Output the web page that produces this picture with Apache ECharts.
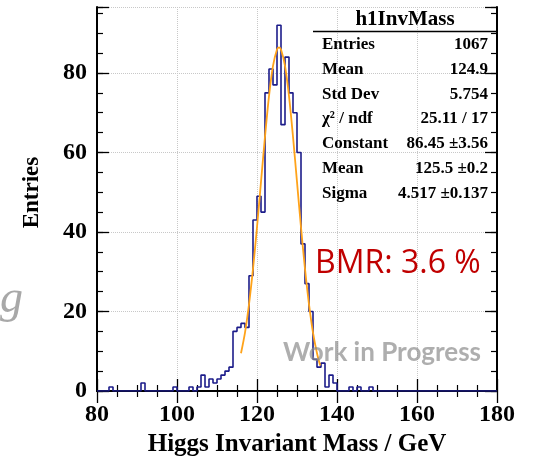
<!DOCTYPE html>
<html><head><meta charset="utf-8">
<script src="https://cdn.jsdelivr.net/npm/echarts@6/dist/echarts.min.js"></script>
<style>html,body{margin:0;padding:0;background:#fff}#c{width:537px;height:462px}</style>
</head><body><div id="c"></div>
<script>
// ---- data ----
const binStart = 80;
const binWidth = 1;
// bin contents, bins [80,81) ... [179,180)
const counts = [
  0,0,0,1,0,0,0,0,0,0,      // 80-89
  0,2,0,0,0,0,0,0,0,1,      // 90-99
  0,0,0,1,0,1,4,1,3,2,      // 100-109
  3,4,5,6,15,16,17,16,29,43,// 110-119
  49,45,75,81,77,92,67,84,75,70, // 120-129
  60,37,27,20,8,6,7,1,4,2,  // 130-139
  0,0,0,1,0,1,0,0,1,0,      // 140-149
  0,0,0,0,0,0,0,0,0,0,      // 150-159
  0,0,0,0,0,0,0,0,0,0,      // 160-169
  0,0,0,0,0,0,0,0,0,0       // 170-179
];
// gaussian fit curve
const fitX = [116,117,118,119,120,121,122,123,124,125,125.5,126,127,128,129,130,131,132,133,134,135,135.8];
const fitY = [9.5,14.7,21.8,30.7,41.2,52.6,64.0,74.2,81.8,85.9,86.45,85.9,81.8,74.2,64.0,52.6,41.2,30.7,21.8,14.7,9.5,6.4];
const xTickLabels = [80,100,120,140,160,180];
const yTickLabels = [0,20,40,60,80];
const statsTitle = 'h1InvMass';
const statsNames = ['Entries','Mean','Std Dev','χ² / ndf','Constant','Mean','Sigma'];
const statsValues = ['1067','124.9','5.754','25.11 / 17','86.45 ±3.56','125.5 ±0.2','4.517 ±0.137'];
const bmrText = 'BMR: 3.6 %';
const wipText = 'Work in Progress';

// ---- chart ----
const serif = '"Liberation Serif", "Times New Roman", serif';
const histData = counts.map((c, i) => [binStart + i * binWidth, c]);
histData.push([binStart + counts.length * binWidth, counts[counts.length - 1]]);
const fitData = fitX.map((x, i) => [x, fitY[i]]);

const X0 = 97, X1 = 497, Y0 = 7, Y1 = 393.5;
const yMax = 96.6;

const frameLine = {show: true, lineStyle: {color: '#000', width: 2}};
function xAx(pos, main) {
  return {
    type: 'value', position: pos, min: 80, max: 180, interval: 20,
    axisLine: frameLine,
    axisTick: {show: true, inside: true, length: 12, lineStyle: {color: '#000', width: 1.3}},
    minorTick: {show: true, splitNumber: 4, length: 6, lineStyle: {color: '#000', width: 1.2}},
    axisLabel: main ? {show: true, margin: 12, fontFamily: serif, fontWeight: 'bold', fontSize: 24, color: '#000',
      formatter: v => xTickLabels.includes(v) ? String(v) : ''} : {show: false},
    splitLine: main ? {show: true, lineStyle: {color: '#c8c8c8', type: 'dotted', width: 1}} : {show: false},
    name: main ? 'Higgs Invariant Mass / GeV' : '',
    nameLocation: 'middle', nameGap: 41,
    nameTextStyle: {fontFamily: serif, fontWeight: 'bold', fontSize: 25, color: '#000'}
  };
}
function yAx(pos, major, main) {
  return {
    type: 'value', position: pos, min: 0, max: yMax, interval: major ? 20 : 5,
    axisLine: major ? frameLine : {show: false},
    axisTick: {show: true, inside: true, length: major ? 12 : 6, lineStyle: {color: '#000', width: major ? 1.3 : 1.2}},
    axisLabel: main ? {show: true, margin: 10, fontFamily: serif, fontWeight: 'bold', fontSize: 24, color: '#000',
      formatter: v => yTickLabels.includes(v) ? String(v) : ''} : {show: false},
    splitLine: main ? {show: true, lineStyle: {color: '#c8c8c8', type: 'dotted', width: 1}} : {show: false},
    name: main ? 'Entries' : '',
    nameLocation: 'middle', nameGap: 53,
    nameTextStyle: {fontFamily: serif, fontWeight: 'bold', fontSize: 23, color: '#000', padding: [0, 0, 0, 13]}
  };
}

const graphics = [];
graphics.push({type: 'text', x: 405, y: 20, z: 50, style: {text: statsTitle, font: 'bold 21px ' + serif, fill: '#000',
  textAlign: 'center', align: 'center', textVerticalAlign: 'middle', verticalAlign: 'middle'}});
graphics.push({type: 'line', z: 50, shape: {x1: 313, y1: 31.5, x2: X1, y2: 31.5}, style: {stroke: '#000', lineWidth: 1.5}});
statsNames.forEach((n, i) => {
  const y = 45 + i * 24.7;
  graphics.push({type: 'text', x: 322, y: y, z: 50, style: {text: n, font: 'bold 17px ' + serif, fill: '#000',
    textAlign: 'left', align: 'left', textVerticalAlign: 'middle', verticalAlign: 'middle'}});
  graphics.push({type: 'text', x: 488, y: y, z: 50, style: {text: statsValues[i], font: 'bold 17px ' + serif, fill: '#000',
    textAlign: 'right', align: 'right', textVerticalAlign: 'middle', verticalAlign: 'middle'}});
});
graphics.push({type: 'text', x: 315, y: 264, z: 50, style: {text: bmrText, font: '32px "Open Sans", sans-serif', fill: '#c00000',
  textAlign: 'left', align: 'left', textVerticalAlign: 'middle', verticalAlign: 'middle'}});
graphics.push({type: 'text', x: 283, y: 353, z: 50, style: {text: wipText, font: 'bold 26px Lato, sans-serif', fill: 'rgba(140,140,140,0.7)',
  textAlign: 'left', align: 'left', textVerticalAlign: 'middle', verticalAlign: 'middle'}});
graphics.push({type: 'text', x: 0, y: 300, z: 50, style: {text: 'g', font: 'italic 46px "Liberation Serif", serif', fill: '#a8a8a8',
  textAlign: 'left', align: 'left', textVerticalAlign: 'middle', verticalAlign: 'middle'}});

const chart = echarts.init(document.getElementById('c'), null, {renderer: 'canvas'});
chart.setOption({
  animation: false,
  backgroundColor: '#fff',
  textStyle: {fontFamily: serif},
  grid: {left: X0, right: 537 - X1, top: Y0, bottom: 462 - Y1, containLabel: false},
  xAxis: [xAx('bottom', true), xAx('top', false)],
  yAxis: [yAx('left', true, true), yAx('left', false, false), yAx('right', true, false), yAx('right', false, false)],
  series: [
    {type: 'line', name: 'h1InvMass', data: histData, step: 'end', xAxisIndex: 0, yAxisIndex: 0,
     symbol: 'none', lineStyle: {color: '#1c1c8a', width: 1.6}, z: 5},
    {type: 'line', name: 'gaus fit', data: fitData, smooth: 0.3, xAxisIndex: 0, yAxisIndex: 0,
     symbol: 'none', lineStyle: {color: '#ffa31a', width: 1.8}, z: 6}
  ],
  graphic: graphics
});
</script></body></html>
